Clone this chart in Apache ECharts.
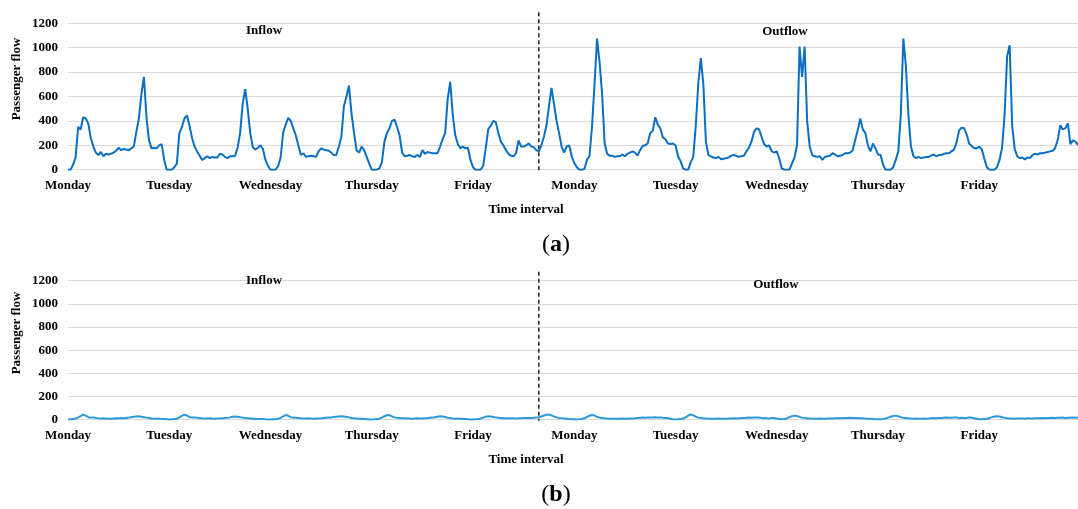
<!DOCTYPE html>
<html><head><meta charset="utf-8">
<script src="https://cdn.jsdelivr.net/npm/echarts/dist/echarts.min.js"></script>
<style>html,body{margin:0;padding:0;background:#fff}#c{width:1078px;height:509px}</style>
</head><body><div id="c"></div>
<script>
// ---- data ----
const dayLabels = ['Monday','Tuesday','Wednesday','Thursday','Friday','Monday','Tuesday','Wednesday','Thursday','Friday'];
const pointsPerDay = 40;
const splitIndex = 186; // boundary between inflow and outflow (time interval index)
const yMin = 0, yMax = 1200, yStep = 200;

// (a) passenger flow, one array per day
const a_d0 = [0,0,40,100,350,330,430,420,380,260,190,140,120,145,110,130,125,130,140,155,180,160,170,165,160,175,190,310,420,620,760,430,240,175,180,175,200,210,80,0];
const a_d1 = [0,0,20,50,300,350,420,445,360,260,190,150,115,80,95,110,95,105,100,100,130,125,105,95,110,110,115,180,300,540,660,500,300,185,165,180,200,170,80,30];
const a_d2 = [0,0,0,30,100,305,370,425,400,340,280,200,120,135,105,110,115,110,105,150,175,165,160,155,140,120,120,190,270,520,600,690,460,300,160,140,190,160,105,50];
const a_d3 = [0,0,0,10,60,230,300,340,400,410,350,280,140,110,115,120,110,105,120,105,160,130,145,140,135,135,135,190,250,300,580,720,450,280,210,175,190,175,180,80];
const a_d4 = [20,0,0,0,30,170,330,360,400,390,300,230,200,160,130,115,110,135,240,190,190,200,215,190,185,160,150,200,270,360,520,670,540,400,300,190,140,190,200,110];
const a_d5 = [55,20,0,0,5,80,110,350,700,1075,880,620,215,130,115,115,105,110,110,125,110,130,140,150,140,115,160,195,200,215,300,320,430,370,340,265,250,215,210,215];
const a_d6 = [200,110,70,10,0,0,60,105,360,710,915,700,230,120,110,100,95,105,85,90,95,100,115,120,115,105,110,115,150,180,230,310,340,330,270,210,190,200,150,140];
const a_d7 = [150,90,10,0,0,0,50,100,200,1010,760,1010,400,190,120,110,105,110,80,105,110,115,135,125,110,115,120,135,135,140,160,245,325,420,330,300,200,150,215,175];
const a_d8 = [125,120,40,0,0,0,20,80,150,450,1075,850,450,190,110,95,105,95,100,105,105,115,125,110,120,120,130,135,135,150,165,220,320,345,340,290,215,195,175,175];
const a_d9 = [190,165,90,20,0,0,0,20,80,180,450,930,1020,360,170,110,95,100,85,100,95,120,130,125,135,135,140,145,150,155,180,245,365,330,340,380,210,240,230,200];

// (b) passenger flow, one array per day
const b_d0 = [2,3,5,10,18,30,43,35,22,18,20,15,12,10,12,10,9,8,10,12,10,14,12,15,18,22,26,28,30,26,22,18,14,10,9,8,9,7,5,3];
const b_d1 = [2,3,5,10,20,32,44,36,24,18,20,16,14,12,11,10,12,10,9,11,10,12,14,16,20,25,28,26,22,18,14,12,10,8,9,7,6,5,3,2];
const b_d2 = [2,3,4,8,16,28,40,34,22,18,16,14,12,11,10,12,10,9,10,11,12,14,16,18,20,24,26,28,30,28,24,20,15,12,10,9,8,6,4,2];
const b_d3 = [2,3,5,9,18,30,38,40,28,20,17,15,13,12,10,11,9,10,12,10,11,13,14,16,18,22,26,30,28,24,18,14,11,9,8,9,7,5,3,2];
const b_d4 = [2,3,5,10,18,26,30,28,24,20,16,14,12,12,11,13,12,11,12,13,14,15,14,15,16,18,22,28,36,42,45,38,28,20,15,12,10,8,5,3];
const b_d5 = [3,2,3,6,12,24,34,40,36,25,18,14,12,10,9,8,9,8,9,10,8,9,10,11,12,14,16,18,17,19,18,20,22,18,20,16,14,12,8,4];
const b_d6 = [2,3,5,10,20,35,45,38,26,18,14,12,10,9,8,9,8,10,9,8,9,10,11,12,10,12,14,15,16,18,17,19,20,18,15,13,12,10,14,15];
const b_d7 = [10,5,3,6,12,22,30,35,32,24,18,14,12,10,9,8,9,10,9,8,10,11,10,12,13,12,14,15,14,16,15,14,15,13,12,10,9,8,6,4];
const b_d8 = [3,4,6,10,18,26,32,35,30,22,16,13,12,10,9,10,9,8,10,9,10,12,14,13,15,14,16,18,17,16,20,18,15,17,14,15,20,16,12,8];
const b_d9 = [4,3,5,8,14,22,28,30,28,22,16,12,11,10,9,10,11,10,9,12,10,11,12,13,12,14,13,15,14,16,15,17,16,18,15,17,16,18,17,20];

// ---- build ----
const seriesA = [].concat(a_d0,a_d1,a_d2,a_d3,a_d4,a_d5,a_d6,a_d7,a_d8,a_d9);
const seriesB = [].concat(b_d0,b_d1,b_d2,b_d3,b_d4,b_d5,b_d6,b_d7,b_d8,b_d9);
const categories = [];
dayLabels.forEach((d, k) => { for (let i = 0; i < pointsPerDay; i++) categories.push(d + '|' + k + '|' + i); });

const FONT = '"Liberation Serif", "Times New Roman", serif';
const G = [
  {left: 68, top: 23.3, width: 1010, height: 146.4},
  {left: 68, top: 280.7, width: 1010, height: 139}
];
function xAx(i, margin) {
  return {
    type: 'category', gridIndex: i, data: categories, boundaryGap: false,
    axisLine: {show: false}, axisTick: {show: false}, splitLine: {show: false},
    axisLabel: {interval: pointsPerDay - 1, margin: margin, color: '#000', fontFamily: FONT, fontWeight: 'bold', fontSize: 13,
      formatter: v => v.split('|')[0]}
  };
}
function yAx(i) {
  return {
    type: 'value', gridIndex: i, min: yMin, max: yMax, interval: yStep,
    axisLine: {show: false}, axisTick: {show: false},
    splitLine: {show: true, lineStyle: {color: '#d9d9d9', width: 1}},
    axisLabel: {margin: 10, color: '#000', fontFamily: FONT, fontWeight: 'bold', fontSize: 13,
      formatter: v => String(v)}
  };
}
const chart = echarts.init(document.getElementById('c'), null, {renderer: 'canvas'});
chart.setOption({
  animation: false,
  backgroundColor: '#fff',
  grid: G,
  xAxis: [xAx(0, 9), xAx(1, 9)],
  yAxis: [yAx(0), yAx(1)],
  series: [
    {type: 'line', xAxisIndex: 0, yAxisIndex: 0, data: seriesA, showSymbol: false, symbol: 'none',
      lineStyle: {color: '#0a6fc2', width: 2}},
    {type: 'line', xAxisIndex: 1, yAxisIndex: 1, data: seriesB, showSymbol: false, symbol: 'none',
      lineStyle: {color: '#2a9ad9', width: 2}}
  ]
});

const xSplit0 = chart.convertToPixel({xAxisIndex: 0}, categories[splitIndex]);
const xSplit1 = chart.convertToPixel({xAxisIndex: 1}, categories[splitIndex]);
function txt(x, y, text, size, extra) {
  return Object.assign({type: 'text', x: x, y: y, silent: true,
    style: {text: text, fill: '#000', font: 'bold ' + size + 'px ' + FONT, textAlign: 'center', textVerticalAlign: 'middle'}}, extra || {});
}
chart.setOption({
  graphic: [
    {type: 'line', silent: true, shape: {x1: xSplit0, y1: G[0].top - 11, x2: xSplit0, y2: G[0].top + G[0].height + 2},
      style: {stroke: '#222', lineWidth: 1.5, lineDash: [4, 3]}},
    {type: 'line', silent: true, shape: {x1: xSplit1, y1: G[1].top - 9, x2: xSplit1, y2: G[1].top + G[1].height + 1},
      style: {stroke: '#222', lineWidth: 1.5, lineDash: [4, 3]}},
    txt(17, 79, 'Passenger flow', 13, {rotation: Math.PI / 2}),
    txt(17, 333, 'Passenger flow', 13, {rotation: Math.PI / 2}),
    txt(264, 30.5, 'Inflow', 13),
    txt(785, 31.5, 'Outflow', 13),
    txt(264, 280.5, 'Inflow', 13),
    txt(776, 284.5, 'Outflow', 13),
    txt(526, 209.5, 'Time interval', 13),
    txt(526, 460, 'Time interval', 13),
    {type: 'text', x: 556, y: 245, silent: true,
      style: {rich: {p: {font: '24px ' + FONT, fill: '#000'}, b: {font: 'bold 24px ' + FONT, fill: '#000'}},
        text: '{p|(}{b|a}{p|)}', textAlign: 'center', textVerticalAlign: 'middle'}},
    {type: 'text', x: 556, y: 495, silent: true,
      style: {rich: {p: {font: '24px ' + FONT, fill: '#000'}, b: {font: 'bold 24px ' + FONT, fill: '#000'}},
        text: '{p|(}{b|b}{p|)}', textAlign: 'center', textVerticalAlign: 'middle'}}
  ]
});
</script>
</body></html>
